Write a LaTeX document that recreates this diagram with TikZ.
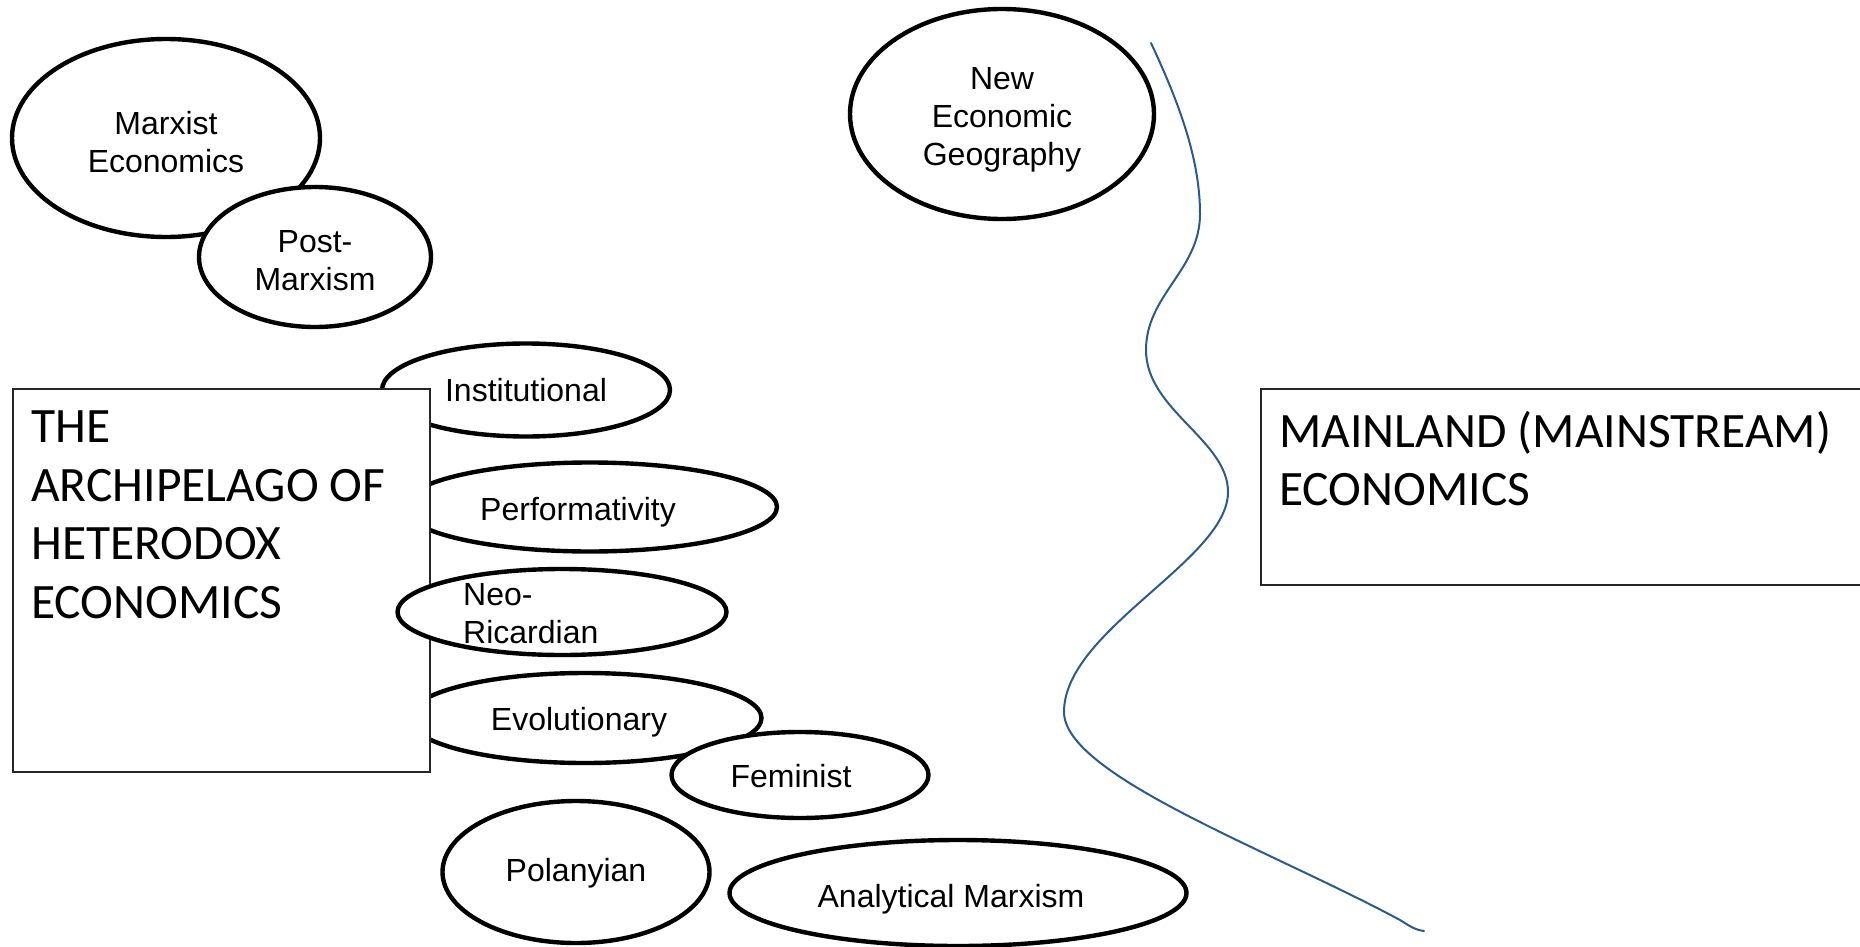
\documentclass[tikz,border=0pt]{standalone}
\usepackage{fontspec}
\setmainfont{Liberation Sans}
\newfontfamily\boxfont{Carlito}
\usetikzlibrary{shapes.geometric}
\definecolor{curveblue}{HTML}{2B5B8C}
\begin{document}
\begin{tikzpicture}[x=1pt,y=-1pt,
  isle/.style={ellipse, draw, line width=4.4pt, fill=white, inner sep=0pt},
  isletext/.style={inner sep=0pt, align=center, font=\fontsize{32}{38}\selectfont},
  panel/.style={draw=black!85, line width=1.5pt, fill=white, inner sep=0pt, anchor=north west},
  paneltext/.style={inner sep=0pt, align=left, anchor=north west,
    font=\boxfont\fontsize{49.5}{58.5}\selectfont},
  coast/.style={draw=curveblue, line width=2pt, line cap=round, line join=round}]
\useasboundingbox (0,0) rectangle (1860,947);
\clip (0,0) rectangle (1860,947);

\node[isle, minimum width=308pt, minimum height=198pt] (marx) at (166,138) {};
\node[isletext] (marxt) at ([yshift=-4pt]marx.center) {Marxist\\Economics};
\node[isle, minimum width=232pt, minimum height=140pt] (post) at (315,257) {};
\node[isletext] (postt) at ([yshift=-4pt]post.center) {Post-\\Marxism};
\node[isle, minimum width=304pt, minimum height=210pt] (neg) at (1002,114) {};
\node[isletext] (negt) at ([yshift=-6pt]neg.center) {New\\Economic\\Geography};
\node[isle, minimum width=288pt, minimum height=93pt] (inst) at (526,390) {};
\node[isletext] (instt) at (inst.center) {Institutional};
\node[isle, minimum width=374pt, minimum height=89pt] (perf) at (590,507) {};
\node[isletext] (perft) at ([xshift=-12pt,yshift=-5pt]perf.center) {Performativity};
\node[isle, minimum width=353pt, minimum height=90pt] (evol) at (585,718) {};
\node[isletext] (evolt) at ([xshift=-6pt,yshift=-4pt]evol.center) {Evolutionary};

\node[panel, minimum width=417pt, minimum height=383pt] (arch) at (12,388) {};
\node[paneltext] (archtext) at (31,411) {THE\\ARCHIPELAGO OF\\HETERODOX\\ECONOMICS};

\node[isle, minimum width=329pt, minimum height=86pt] (neo) at (562,612) {};
\node[isletext, align=left, anchor=west] (neotext) at (463,614) {Neo-\\Ricardian};
\node[isle, minimum width=257pt, minimum height=86pt] (fem) at (800,775) {};
\node[isletext] (femt) at ([xshift=-9pt,yshift=-1pt]fem.center) {Feminist};
\node[isle, minimum width=267pt, minimum height=142pt] (pol) at (576,872) {};
\node[isletext] (polt) at ([yshift=-1pt]pol.center) {Polanyian};
\node[isle, minimum width=457pt, minimum height=106pt] (anal) at (958,893) {};
\node[isletext] (analt) at ([xshift=-7pt,yshift=-6pt]anal.center) {Analytical Marxism};

\node[panel, minimum width=700pt, minimum height=196pt] (mainland) at (1260,388) {};
\node[paneltext] (maintext) at (1279,411) {MAINLAND (MAINSTREAM)\\ECONOMICS};

\coordinate (c0) at (1151,43);
\coordinate (c1) at (1200,214);
\coordinate (c2) at (1146,350);
\coordinate (c3) at (1228,492);
\coordinate (c4) at (1064,712);
\coordinate (c5) at (1424,931);
\draw[coast] (c0) .. controls (1180,105) and (1200,160) .. (c1)
  .. controls (1200,270) and (1146,295) .. (c2)
  .. controls (1146,410) and (1228,440) .. (c3)
  .. controls (1228,560) and (1064,630) .. (c4)
  .. controls (1064,775) and (1270,850) .. (1400,920)
  .. controls (1408,925) and (1415,930) .. (c5);
\end{tikzpicture}
\end{document}
